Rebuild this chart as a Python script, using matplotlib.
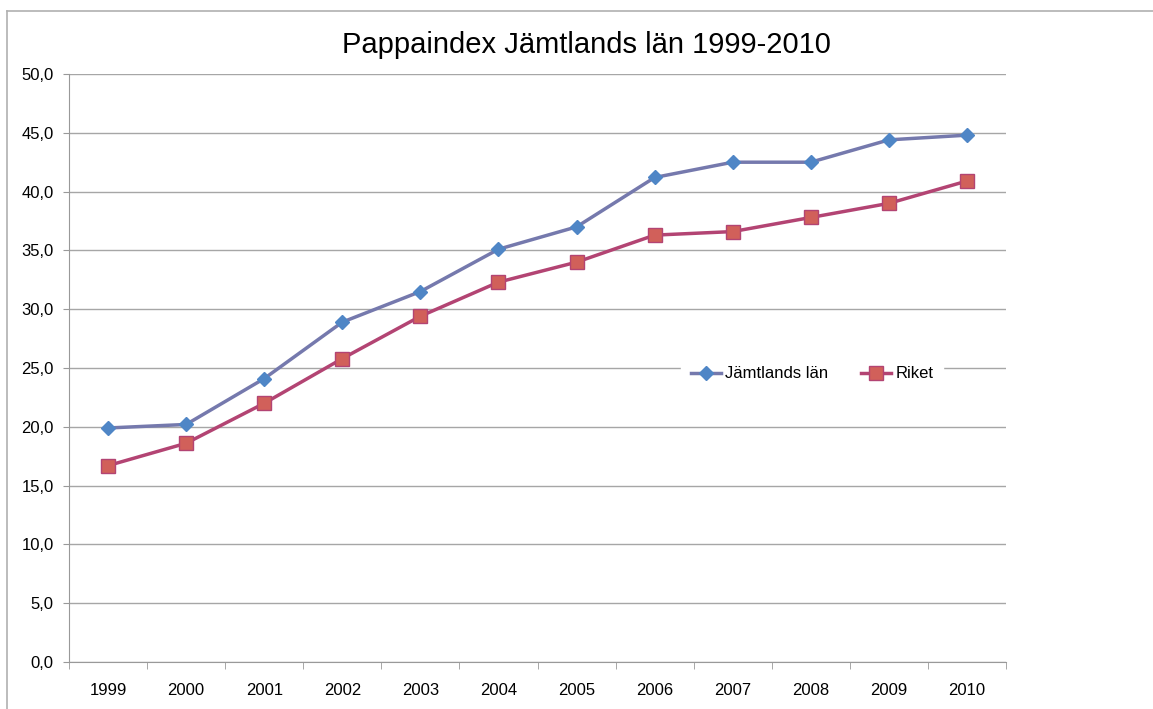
import numpy as np
import matplotlib.pyplot as plt
from matplotlib.lines import Line2D

plt.rcParams['font.family'] = ['Liberation Sans', 'DejaVu Sans']

# Data
years = ['1999', '2000', '2001', '2002', '2003', '2004',
         '2005', '2006', '2007', '2008', '2009', '2010']
jamtland = [19.9, 20.2, 24.1, 28.9, 31.5, 35.1, 37.0, 41.2, 42.5, 42.5, 44.4, 44.8]
riket = [16.7, 18.6, 22.0, 25.8, 29.4, 32.3, 34.0, 36.3, 36.6, 37.8, 39.0, 40.9]

W, H = 1153, 709
fig = plt.figure(figsize=(W / 100, H / 100), dpi=100)
ax = fig.add_axes([69 / W, 1 - 662 / H, (1006 - 69) / W, (662 - 74) / H])

# outer chart frame (only top and left edges are visible)
fig.add_artist(Line2D([7 / W, 1], [1 - 11 / H, 1 - 11 / H], color='#b0b0b0', lw=1.2))
fig.add_artist(Line2D([7 / W, 7 / W], [0, 1 - 11 / H], color='#b0b0b0', lw=1.2))

x = np.arange(len(years))
ax.plot(x, jamtland, color='#7579ad', lw=2.5, marker='D', ms=7,
        mfc='#4f86c6', mec='#4f86c6', label='Jämtlands län', zorder=3)
ax.plot(x, riket, color='#b34473', lw=2.5, marker='s', ms=10,
        mfc='#d1605a', mec='#b34473', mew=1, label='Riket', zorder=3)

ax.set_xlim(-0.5, len(years) - 0.5)
ax.set_ylim(0, 50)
ax.set_yticks(np.arange(0, 51, 5))
ax.set_yticklabels([f'{v:.1f}'.replace('.', ',') for v in np.arange(0, 51, 5)], fontsize=12)
ax.set_xticks(x)
ax.set_xticklabels(years, fontsize=12)
ax.set_xticks(np.arange(-0.5, len(years)), minor=True)
ax.tick_params(axis='x', which='major', length=0, pad=15)
ax.tick_params(axis='x', which='minor', length=5, color='#999999', direction='out')
ax.tick_params(axis='y', length=4, color='#999999', pad=7)
ax.grid(axis='y', color='#a6a6a6', lw=1)
ax.set_axisbelow(True)
for s in ['top', 'right']:
    ax.spines[s].set_visible(False)
for s in ['left', 'bottom']:
    ax.spines[s].set_color('#999999')

fig.text(586 / W, 1 - 45 / H, 'Pappaindex Jämtlands län 1999-2010', fontsize=21,
         ha='center', va='center')

leg = ax.legend(loc='center', bbox_to_anchor=((812 - 69) / (1006 - 69), 1 - (374 - 74) / (662 - 74)),
                ncol=2, frameon=True, fontsize=12, handlelength=1.8, columnspacing=2.0,
                handletextpad=0.25, borderpad=0.6, borderaxespad=0)
leg.get_frame().set_edgecolor('white')
leg.get_frame().set_facecolor('white')
leg.get_frame().set_alpha(1)

fig.savefig('out.png', dpi=100)
